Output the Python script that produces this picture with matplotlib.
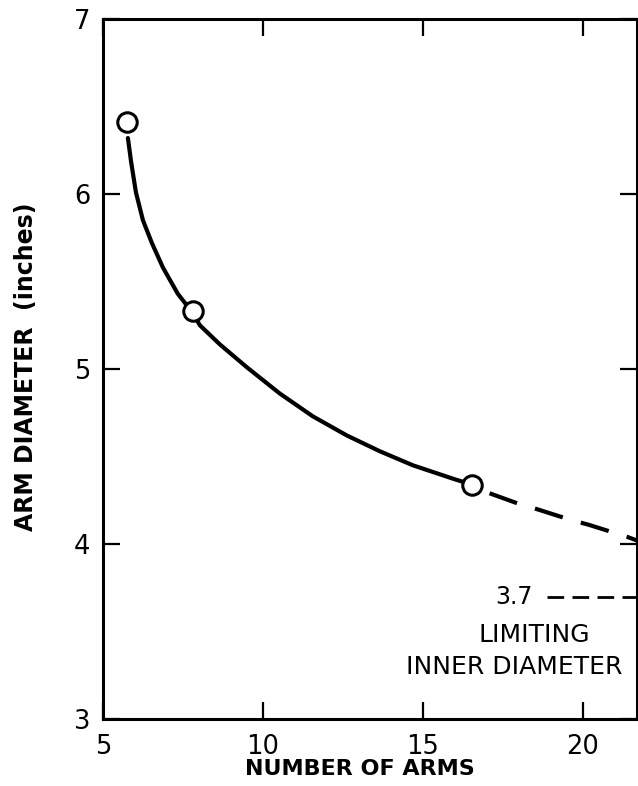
import matplotlib
matplotlib.use("Agg")
import matplotlib.pyplot as plt

# measured points (open circles)
arms_pts = [5.75, 7.81, 16.53]
diam_pts = [6.41, 5.33, 4.34]

# solid part of the curve
arms_solid = [5.78, 5.875, 6.03, 6.25, 6.53, 6.875, 7.34, 7.81, 8.03, 8.66,
              9.50, 10.53, 11.56, 12.63, 13.66, 14.69, 16.00, 16.53]
diam_solid = [6.32, 6.19, 6.01, 5.85, 5.72, 5.58, 5.43, 5.32, 5.25, 5.14,
              5.01, 4.86, 4.73, 4.62, 4.53, 4.45, 4.37, 4.34]

# dashed extrapolation
arms_dash = [17.09, 18.00, 18.56, 19.59, 20.19, 21.41, 21.70]
diam_dash = [4.29, 4.23, 4.20, 4.14, 4.11, 4.04, 4.02]

limit_diam = 3.7
limit_arms = [18.9, 21.7]

xticks = [5, 10, 15, 20]
yticks = [3, 4, 5, 6, 7]

fig = plt.figure(figsize=(6.38, 7.86), dpi=100)
ax = fig.add_axes([0.1614, 0.0852, 0.8370, 0.8906])

ax.plot(arms_solid, diam_solid, color='black', lw=3.0, solid_capstyle='round', zorder=2)
ax.plot(arms_dash, diam_dash, color='black', lw=3.0, dashes=(7, 4.5), zorder=2)
ax.plot(arms_pts, diam_pts, 'o', ms=14, mfc='white', mec='black', mew=2.2, zorder=3)

ax.plot(limit_arms, [limit_diam, limit_diam], color='black', lw=2.0, dashes=(6, 3))
ax.text(18.45, limit_diam, '3.7', ha='right', va='center', fontsize=17)
ax.text(18.5, 3.48, 'LIMITING', ha='center', va='center', fontsize=18)
ax.text(17.85, 3.30, 'INNER DIAMETER', ha='center', va='center', fontsize=18)

ax.set_xlim(5, 21.7)
ax.set_ylim(3, 7)
ax.set_xticks(xticks)
ax.set_yticks(yticks)
ax.tick_params(direction='in', length=12, width=1.6, top=True, right=True,
               labelsize=18.5, pad=9)
ax.tick_params(axis='x', pad=11)
for s in ax.spines.values():
    s.set_linewidth(2.2)

ax.set_xlabel('NUMBER OF ARMS', fontsize=16, fontweight='bold')
ax.set_ylabel('ARM DIAMETER  (inches)', fontsize=17, fontweight='bold')
ax.xaxis.set_label_coords(0.481, -0.057)
ax.yaxis.set_label_coords(-0.122, 0.503)

plt.savefig('out.png', dpi=100)
plt.close()
